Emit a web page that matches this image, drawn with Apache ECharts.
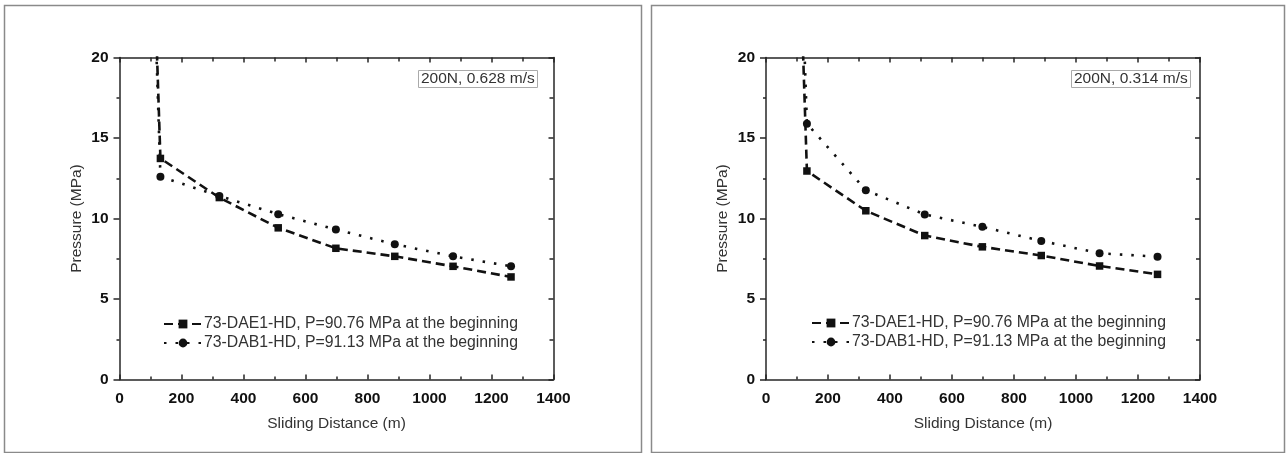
<!DOCTYPE html>
<html>
<head>
<meta charset="utf-8">
<script src="https://cdn.jsdelivr.net/npm/echarts@6/dist/echarts.min.js"></script>
<style>
html,body{margin:0;padding:0;background:#fff;}
#c{width:1287px;height:453px;}
</style>
</head>
<body>
<div id="c"></div>
<script>
// ---- data ----
const distance = [0, 132, 322, 512, 698, 888, 1076, 1263];           // sliding distance (m)
const leftDAE1 = [90.76, 13.73, 11.30, 9.42, 8.15, 7.65, 7.03, 6.37];  // 200N, 0.628 m/s
const leftDAB1 = [91.13, 12.60, 11.40, 10.27, 9.32, 8.40, 7.65, 7.03];
const rightDAE1 = [90.76, 12.95, 10.48, 8.94, 8.24, 7.70, 7.05, 6.53]; // 200N, 0.314 m/s
const rightDAB1 = [91.13, 15.89, 11.76, 10.25, 9.48, 8.61, 7.84, 7.63];
const panelTitles = ['200N, 0.628 m/s', '200N, 0.314 m/s'];
const seriesNames = ['73-DAE1-HD, P=90.76 MPa at the beginning', '73-DAB1-HD, P=91.13 MPa at the beginning'];
const xName = 'Sliding Distance (m)';
const yName = 'Pressure (MPa)';

const pair = (xs, ys) => xs.map((x, i) => [x, ys[i]]);

const FONT = '"Liberation Sans", Arial, sans-serif';
const AX = '#262626';

const grids = [
  {left: 119.5, top: 57.5, width: 434, height: 322},
  {left: 766, top: 57.5, width: 434, height: 322}
];

const xAxes = [], yAxes = [];
grids.forEach((g, i) => {
  // bottom axis
  xAxes.push({
    type: 'value', gridIndex: i, min: 0, max: 1400, interval: 200, position: 'bottom',
    name: xName, nameLocation: 'middle', nameGap: 36,
    nameTextStyle: {fontFamily: FONT, fontSize: 15.5, color: '#333'},
    axisLine: {lineStyle: {color: AX, width: 1.5}},
    axisTick: {inside: true, length: 5, lineStyle: {color: AX, width: 1.5}},
    minorTick: {show: true, splitNumber: 2, length: 3, lineStyle: {color: AX, width: 1.5}},
    axisLabel: {margin: 11, fontFamily: FONT, fontSize: 15.5, fontWeight: 'bold', color: '#111',
                formatter: v => String(v)},
    splitLine: {show: false}
  });
  // top axis (frame)
  xAxes.push({
    type: 'value', gridIndex: i, min: 0, max: 1400, interval: 200, position: 'top',
    axisLine: {show: true, onZero: false, lineStyle: {color: AX, width: 1.5}},
    axisTick: {inside: true, length: 5, lineStyle: {color: AX, width: 1.5}},
    minorTick: {show: true, splitNumber: 2, length: 4, lineStyle: {color: AX, width: 1.5}},
    axisLabel: {show: false}, splitLine: {show: false}
  });
  // left axis
  yAxes.push({
    type: 'value', gridIndex: i, min: 0, max: 20, interval: 5, position: 'left',
    name: yName, nameLocation: 'middle', nameGap: 35,
    nameTextStyle: {fontFamily: FONT, fontSize: 15.5, color: '#333'},
    axisLine: {show: true, lineStyle: {color: AX, width: 1.5}},
    axisTick: {show: true, inside: false, length: 6, lineStyle: {color: AX, width: 1.5}},
    minorTick: {show: true, splitNumber: 2, length: 3, lineStyle: {color: AX, width: 1.5}},
    axisLabel: {margin: 11, fontFamily: FONT, fontSize: 15.5, fontWeight: 'bold', color: '#111',
                formatter: v => String(v)},
    splitLine: {show: false}
  });
  // right axis (frame)
  yAxes.push({
    type: 'value', gridIndex: i, min: 0, max: 20, interval: 5, position: 'right',
    axisLine: {show: true, onZero: false, lineStyle: {color: AX, width: 1.5}},
    axisTick: {show: true, inside: true, length: 5, lineStyle: {color: AX, width: 1.5}},
    minorTick: {show: true, splitNumber: 2, length: 4, lineStyle: {color: AX, width: 1.5}},
    axisLabel: {show: false}, splitLine: {show: false}
  });
});

function dae(name, gi, ys) {
  return {
    name: name, type: 'line', xAxisIndex: gi * 2, yAxisIndex: gi * 2,
    data: pair(distance, ys), clip: true,
    symbol: 'rect', symbolSize: 7.5,
    itemStyle: {color: '#111'},
    lineStyle: {color: '#111', width: 2.6, type: [9, 5]},
    emphasis: {disabled: true}, animation: false, z: 3
  };
}
function dab(name, gi, ys) {
  return {
    name: name, type: 'line', xAxisIndex: gi * 2, yAxisIndex: gi * 2,
    data: pair(distance, ys), clip: true,
    symbol: 'circle', symbolSize: 8,
    itemStyle: {color: '#111'},
    lineStyle: {color: '#111', width: 2.6, type: [2.5, 9]},
    emphasis: {disabled: true}, animation: false, z: 3
  };
}

const series = [
  dae(seriesNames[0], 0, leftDAE1),
  dab(seriesNames[1], 0, leftDAB1),
  dae(seriesNames[0], 1, rightDAE1),
  dab(seriesNames[1], 1, rightDAB1)
];

const legendBase = {
  orient: 'vertical', data: seriesNames, itemWidth: 38, itemHeight: 11, itemGap: 1,
  selectedMode: false,
  textStyle: {fontFamily: FONT, fontSize: 15.8, lineHeight: 18, color: '#333', padding: [0, 0, 0, -3]}
};

const option = {
  backgroundColor: '#fff',
  animation: false,
  grid: grids,
  xAxis: xAxes,
  yAxis: yAxes,
  series: series,
  legend: [
    Object.assign({}, legendBase, {left: 158, top: 310}),
    Object.assign({}, legendBase, {left: 806, top: 309})
  ],
  title: [
    {text: panelTitles[0], left: 418, top: 70, padding: [1, 3, 1, 3], borderWidth: 1, borderColor: '#aaa',
     textStyle: {fontFamily: FONT, fontSize: 15.5, fontWeight: 'normal', color: '#333'}},
    {text: panelTitles[1], left: 1071, top: 70, padding: [1, 3, 1, 3], borderWidth: 1, borderColor: '#aaa',
     textStyle: {fontFamily: FONT, fontSize: 15.5, fontWeight: 'normal', color: '#333'}}
  ],
  graphic: [
    {type: 'rect', shape: {x: 4.5, y: 5.5, width: 637, height: 447}, style: {fill: null, stroke: '#8a8a8a', lineWidth: 1.5}, silent: true, z: -1},
    {type: 'rect', shape: {x: 651.5, y: 5.5, width: 633, height: 447}, style: {fill: null, stroke: '#8a8a8a', lineWidth: 1.5}, silent: true, z: -1}
  ]
};

const chart = echarts.init(document.getElementById('c'), null, {renderer: 'canvas'});
chart.setOption(option);
</script>
</body>
</html>
